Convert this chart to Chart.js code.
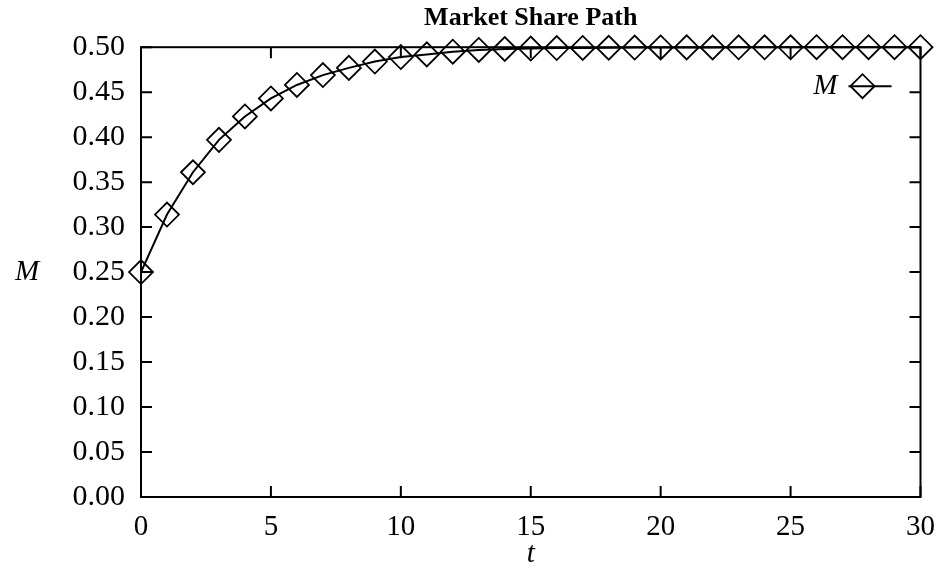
<!DOCTYPE html>
<html>
<head>
<meta charset="utf-8">
<title>Market Share Path</title>
<script src="https://cdn.jsdelivr.net/npm/chart.js"></script>
<style>
    body { margin: 0; background: #fff; }
    #chartHolder { width: 948px; height: 569px; }
</style>
</head>
<body>
<div id="chartHolder"><canvas id="shareChart"></canvas></div>
<script>
// Values
const chartTitle = 'Market Share Path';
const xAxisLabel = 't';
const yAxisLabel = 'M';
const seriesLabel = 'M';
const timeSteps = [0, 1, 2, 3, 4, 5, 6, 7, 8, 9, 10, 11, 12, 13, 14, 15,
    16, 17, 18, 19, 20, 21, 22, 23, 24, 25, 26, 27, 28, 29, 30];
const marketShare = [0.250, 0.314, 0.361, 0.397, 0.423, 0.443, 0.458, 0.469, 0.477, 0.484,
    0.489, 0.492, 0.495, 0.497, 0.498, 0.4985, 0.499, 0.4992, 0.4994, 0.4996,
    0.4997, 0.4998, 0.4998, 0.4999, 0.4999, 0.4999, 0.5, 0.5, 0.5, 0.5, 0.5];
const xTickStep = 5;
const yTickStep = 0.05;

const FONT = '"Liberation Serif", "Times New Roman", serif';
const TICK_LEN = 11;


// Draws the box round the plot, the inward tick marks and the unrotated y label
const framePlugin = {
    id: 'frame',
    beforeDatasetsDraw(chart) {
        const { ctx, chartArea: a, scales: { x, y } } = chart;
        ctx.save();
        ctx.strokeStyle = '#000';
        ctx.lineWidth = 2;
        ctx.strokeRect(a.left, a.top, a.width, a.height);

        ctx.beginPath();
        y.ticks.forEach(function (t) {
            const py = y.getPixelForValue(t.value);
            ctx.moveTo(a.left, py);
            ctx.lineTo(a.left + TICK_LEN, py);
            ctx.moveTo(a.right, py);
            ctx.lineTo(a.right - TICK_LEN, py);
        });
        x.ticks.forEach(function (t) {
            const px = x.getPixelForValue(t.value);
            ctx.moveTo(px, a.bottom);
            ctx.lineTo(px, a.bottom - TICK_LEN);
            ctx.moveTo(px, a.top);
            ctx.lineTo(px, a.top + TICK_LEN);
        });
        ctx.stroke();

        ctx.fillStyle = '#000';
        ctx.font = 'italic 29px ' + FONT;
        ctx.textAlign = 'center';
        ctx.textBaseline = 'middle';
        ctx.fillText(yAxisLabel, 27, (a.top + a.bottom) / 2);
        ctx.restore();
    }
};


// Gnuplot-like key in the top right corner: label, then the sample line with a marker
const keyPlugin = {
    id: 'key',
    afterDatasetsDraw(chart) {
        const { ctx, chartArea: a } = chart;
        const ds = chart.data.datasets[0];
        const ky = a.top + 39;
        ctx.save();
        ctx.fillStyle = '#000';
        ctx.font = 'italic 29px ' + FONT;
        ctx.textAlign = 'right';
        ctx.textBaseline = 'middle';
        ctx.fillText(ds.label, a.right - 83, ky);

        ctx.strokeStyle = '#000';
        ctx.lineWidth = 2;
        ctx.beginPath();
        ctx.moveTo(a.right - 72, ky);
        ctx.lineTo(a.right - 29, ky);
        ctx.stroke();

        // hollow marker, same as the plotted ones
        ctx.fillStyle = 'rgba(0,0,0,0)';
        ctx.lineWidth = ds.pointBorderWidth;
        Chart.helpers.drawPoint(ctx, {
            pointStyle: 'rectRot',
            radius: ds.pointRadius,
            borderWidth: ds.pointBorderWidth
        }, a.right - 58, ky);
        ctx.restore();
    }
};


const points = timeSteps.map(function (t, i) {
    return { x: t, y: marketShare[i] };
});

const config = {
    type: 'line',
    data: {
        datasets: [
            {
                label: seriesLabel,
                data: points,
                borderColor: '#000',
                borderWidth: 2,
                tension: 0,
                pointStyle: 'rectRot',
                pointRadius: 12,
                pointBorderWidth: 1.8,
                pointBorderColor: '#000',
                pointBackgroundColor: 'rgba(0,0,0,0)',
                clip: false // markers on the 0.50 line must not be cut
            }
        ]
    },
    options: {
        responsive: true,
        maintainAspectRatio: false,
        animation: false,
        layout: {
            padding: { left: 0, right: 19, top: 0, bottom: 0 }
        },
        scales: {
            x: {
                type: 'linear',
                min: 0,
                max: 30,
                grid: { display: false, drawTicks: false },
                border: { display: false },
                ticks: {
                    stepSize: xTickStep,
                    padding: 13,
                    color: '#000',
                    font: { family: FONT, size: 29 }
                },
                title: {
                    display: true,
                    text: xAxisLabel,
                    color: '#000',
                    font: { family: FONT, size: 29, style: 'italic', lineHeight: 1.0 },
                    padding: { top: 0, bottom: 0 }
                },
                afterFit: function (scale) {
                    scale.height = 72;
                }
            },
            y: {
                min: 0,
                max: 0.5,
                grid: { display: false, drawTicks: false },
                border: { display: false },
                ticks: {
                    stepSize: yTickStep,
                    padding: 16,
                    color: '#000',
                    font: { family: FONT, size: 30 },
                    callback: function (value) {
                        return value.toFixed(2);
                    }
                },
                afterFit: function (scale) {
                    scale.width = 141;
                }
            }
        },
        plugins: {
            legend: { display: false },
            tooltip: { enabled: false },
            title: {
                display: true,
                text: chartTitle,
                fullSize: false, // centre over the plot, not the whole canvas
                color: '#000',
                font: { family: FONT, size: 26, weight: 'bold' },
                padding: { top: 3, bottom: 13 }
            }
        }
    },
    plugins: [framePlugin, keyPlugin]
};

new Chart(document.getElementById('shareChart').getContext('2d'), config);
</script>
</body>
</html>
